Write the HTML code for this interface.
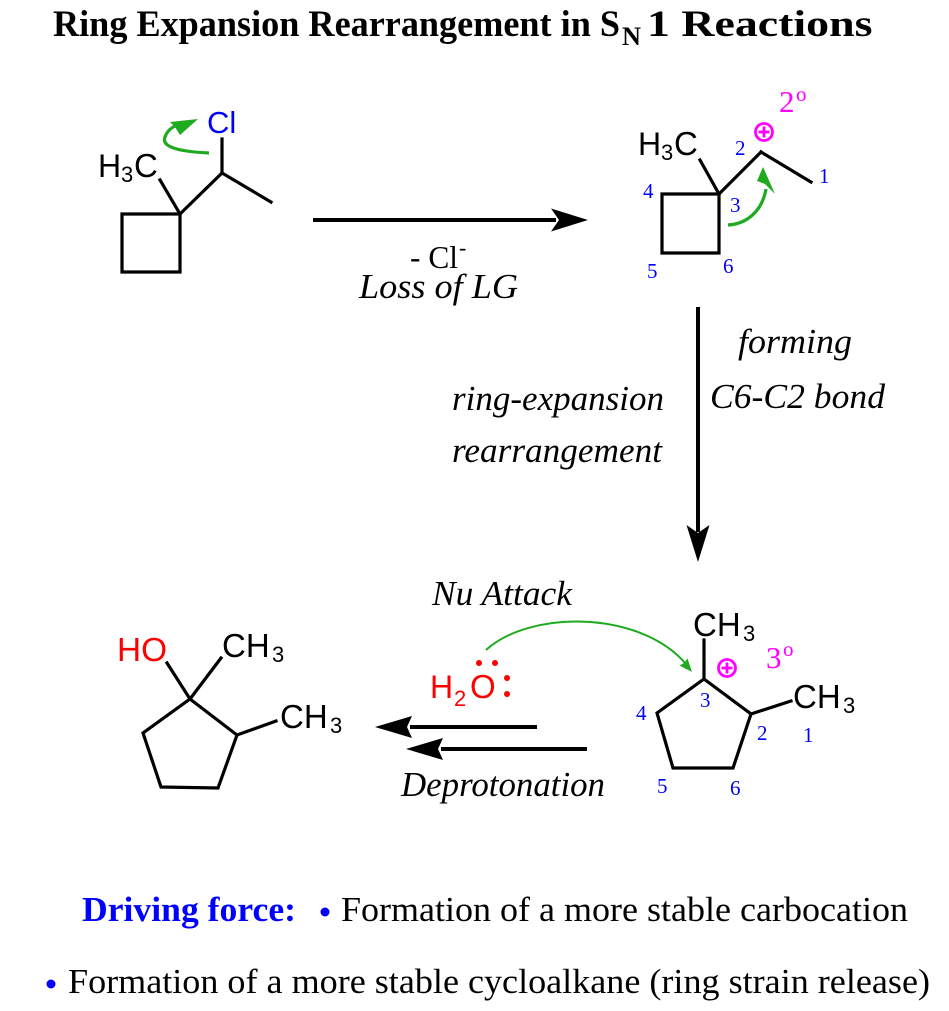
<!DOCTYPE html>
<html><head><meta charset="utf-8"><style>
html,body{margin:0;padding:0;background:#fff;}
svg{display:block;}
.a{font-family:"Liberation Sans",Arial,sans-serif;}
.s{font-family:"Liberation Serif","Times New Roman",serif;}
.i{font-family:"Liberation Serif","Times New Roman",serif;font-style:italic;font-size:35px;}
.n{font-family:"Liberation Serif","Times New Roman",serif;font-size:21px;fill:#0000ff;}
</style></head><body>
<svg width="949" height="1011" viewBox="0 0 949 1011" xmlns="http://www.w3.org/2000/svg">
<rect width="949" height="1011" fill="#fff"/>
<!-- Title -->
<text class="s" x="53" y="36" font-size="37" font-weight="bold" textLength="567" lengthAdjust="spacingAndGlyphs">Ring Expansion Rearrangement in S</text>
<text class="s" x="622" y="45" font-size="26" font-weight="bold" textLength="19" lengthAdjust="spacingAndGlyphs">N</text>
<text class="s" x="647" y="36" font-size="37" font-weight="bold" transform="translate(647,36) scale(1.24,1) translate(-647,-36)">1 Reactions</text>

<g stroke="#000" stroke-width="3.2" fill="none" stroke-linecap="square" stroke-linejoin="miter">
<!-- molecule 1 -->
<polygon points="122,214 180,214 180,272 122,272"/>
<line x1="180" y1="214" x2="160" y2="180"/>
<line x1="180" y1="214" x2="222" y2="173"/>
<line x1="222" y1="173" x2="271" y2="202"/>
<line x1="222" y1="173" x2="222" y2="139"/>
<!-- molecule 2 -->
<polygon points="662,194 719,194 719,253 662,253"/>
<line x1="719" y1="194" x2="700" y2="160"/>
<line x1="719" y1="194" x2="761" y2="152"/>
<line x1="761" y1="152" x2="811" y2="182"/>
<!-- molecule 3 -->
<polygon points="704,679 751,714 733,768 673,768 657,713"/>
<line x1="704" y1="679" x2="704" y2="640"/>
<line x1="751" y1="714" x2="791" y2="701"/>
<!-- molecule 4 -->
<polygon points="190,699 237,735 218,788 161,787 143,733"/>
<line x1="190" y1="699" x2="167" y2="663"/>
<line x1="190" y1="699" x2="221" y2="658"/>
<line x1="237" y1="735" x2="276" y2="721"/>
</g>

<!-- molecule 1 labels -->
<text class="a" x="207" y="133" font-size="31" fill="#0000ff">Cl</text>
<text class="a" x="98" y="177" font-size="32">H</text>
<text class="a" x="121" y="182" font-size="22">3</text>
<text class="a" x="134" y="177" font-size="33">C</text>
<!-- green arrow 1 -->
<path d="M209,153 C188,152 160,149 165,137 C167,131 171,128 175,126" stroke="#1faa1f" stroke-width="3.2" fill="none"/>
<polygon points="198,119 170,122 175,127 180,135" fill="#1faa1f"/>

<!-- arrow 1 -->
<line x1="313" y1="220" x2="556" y2="220" stroke="#000" stroke-width="4"/>
<polygon points="588,220 551,208.5 559,220 551,231.5" fill="#000"/>
<text class="s" x="410" y="268" font-size="32" textLength="48" lengthAdjust="spacingAndGlyphs">- Cl</text>
<text class="s" x="459" y="255" font-size="22">-</text>
<text class="i" x="359" y="298" textLength="159" lengthAdjust="spacingAndGlyphs">Loss of LG</text>

<!-- molecule 2 labels -->
<text class="a" x="638" y="155" font-size="32">H</text>
<text class="a" x="661" y="160" font-size="22">3</text>
<text class="a" x="674" y="155" font-size="33">C</text>
<circle cx="764" cy="132" r="8.5" stroke="#ff00ff" stroke-width="2.8" fill="none"/>
<line x1="758.5" y1="132" x2="769.5" y2="132" stroke="#ff00ff" stroke-width="2.8"/>
<line x1="764" y1="126.5" x2="764" y2="137.5" stroke="#ff00ff" stroke-width="2.8"/>
<text class="s" x="779" y="112" font-size="31" fill="#ff00ff">2</text>
<text class="s" x="796" y="101" font-size="21" fill="#ff00ff">o</text>
<text class="n" x="735" y="155">2</text>
<text class="n" x="819" y="183">1</text>
<text class="n" x="643" y="198">4</text>
<text class="n" x="730" y="212">3</text>
<text class="n" x="647" y="278">5</text>
<text class="n" x="723" y="273">6</text>
<!-- green arrow 2 -->
<path d="M728,225 C746,224 762,212 766,189" stroke="#1faa1f" stroke-width="3.2" fill="none"/>
<polygon points="763,167 757,181 765,184 775,194" fill="#1faa1f"/>

<!-- vertical arrow -->
<line x1="698" y1="307" x2="698" y2="532" stroke="#000" stroke-width="4"/>
<polygon points="698,562 686.5,525 698,533 709.5,525" fill="#000"/>
<text class="i" x="738" y="353" textLength="114" lengthAdjust="spacingAndGlyphs">forming</text>
<text class="i" x="710" y="408" textLength="175" lengthAdjust="spacingAndGlyphs">C6-C2 bond</text>
<text class="i" x="452" y="410" textLength="212" lengthAdjust="spacingAndGlyphs">ring-expansion</text>
<text class="i" x="452" y="462" textLength="210" lengthAdjust="spacingAndGlyphs">rearrangement</text>

<!-- molecule 3 labels -->
<text class="a" x="693" y="636" font-size="33">CH</text>
<text class="a" x="743" y="641" font-size="22">3</text>
<text class="a" x="793" y="708" font-size="33">CH</text>
<text class="a" x="843" y="713" font-size="22">3</text>
<circle cx="727" cy="668" r="8.5" stroke="#ff00ff" stroke-width="2.8" fill="none"/>
<line x1="721.5" y1="668" x2="732.5" y2="668" stroke="#ff00ff" stroke-width="2.8"/>
<line x1="727" y1="662.5" x2="727" y2="673.5" stroke="#ff00ff" stroke-width="2.8"/>
<text class="s" x="766" y="668" font-size="31" fill="#ff00ff">3</text>
<text class="s" x="783" y="656" font-size="21" fill="#ff00ff">o</text>
<text class="n" x="700" y="707">3</text>
<text class="n" x="636" y="720">4</text>
<text class="n" x="757" y="740">2</text>
<text class="n" x="803" y="742">1</text>
<text class="n" x="657" y="793">5</text>
<text class="n" x="730" y="795">6</text>

<!-- Nu attack -->
<text class="i" x="432" y="605" textLength="140" lengthAdjust="spacingAndGlyphs">Nu Attack</text>
<path d="M486,650 C530,610 640,610 686,664" stroke="#1faa1f" stroke-width="2" fill="none"/>
<polygon points="692,672 679.5,665.5 684,663 687.5,658.5" fill="#1faa1f"/>
<text class="a" x="430" y="698" font-size="32" fill="#ff0000">H</text>
<text class="a" x="454" y="706" font-size="22" fill="#ff0000">2</text>
<text class="a" x="470" y="698" font-size="33" fill="#ff0000">O</text>
<circle cx="479" cy="663" r="3" fill="#ff0000"/>
<circle cx="495" cy="663" r="3" fill="#ff0000"/>
<circle cx="507" cy="678" r="3" fill="#ff0000"/>
<circle cx="507" cy="694" r="3" fill="#ff0000"/>

<!-- back arrows -->
<line x1="410" y1="727" x2="537" y2="727" stroke="#000" stroke-width="4"/>
<polygon points="375,727 412,716 407,727 412,738" fill="#000"/>
<line x1="441" y1="749" x2="587" y2="749" stroke="#000" stroke-width="4"/>
<polygon points="406,749 443,738 438,749 443,760" fill="#000"/>
<text class="i" x="401" y="796" textLength="204" lengthAdjust="spacingAndGlyphs">Deprotonation</text>

<!-- molecule 4 labels -->
<text class="a" x="117" y="661" font-size="33" fill="#ff0000" textLength="50" lengthAdjust="spacingAndGlyphs">HO</text>
<text class="a" x="222" y="657" font-size="33">CH</text>
<text class="a" x="272" y="662" font-size="22">3</text>
<text class="a" x="280" y="728" font-size="33">CH</text>
<text class="a" x="330" y="733" font-size="22">3</text>

<!-- bottom text -->
<text class="s" x="82" y="921" font-size="35" font-weight="bold" fill="#0000ff" textLength="214" lengthAdjust="spacingAndGlyphs">Driving force:</text>
<circle cx="325" cy="912" r="4.5" fill="#0000ff"/>
<text class="s" x="341" y="921" font-size="35" textLength="567" lengthAdjust="spacingAndGlyphs">Formation of a more stable carbocation</text>
<circle cx="51" cy="984" r="4.5" fill="#0000ff"/>
<text class="s" x="68" y="993" font-size="35" textLength="862" lengthAdjust="spacingAndGlyphs">Formation of a more stable cycloalkane (ring strain release)</text>
</svg>
</body></html>
